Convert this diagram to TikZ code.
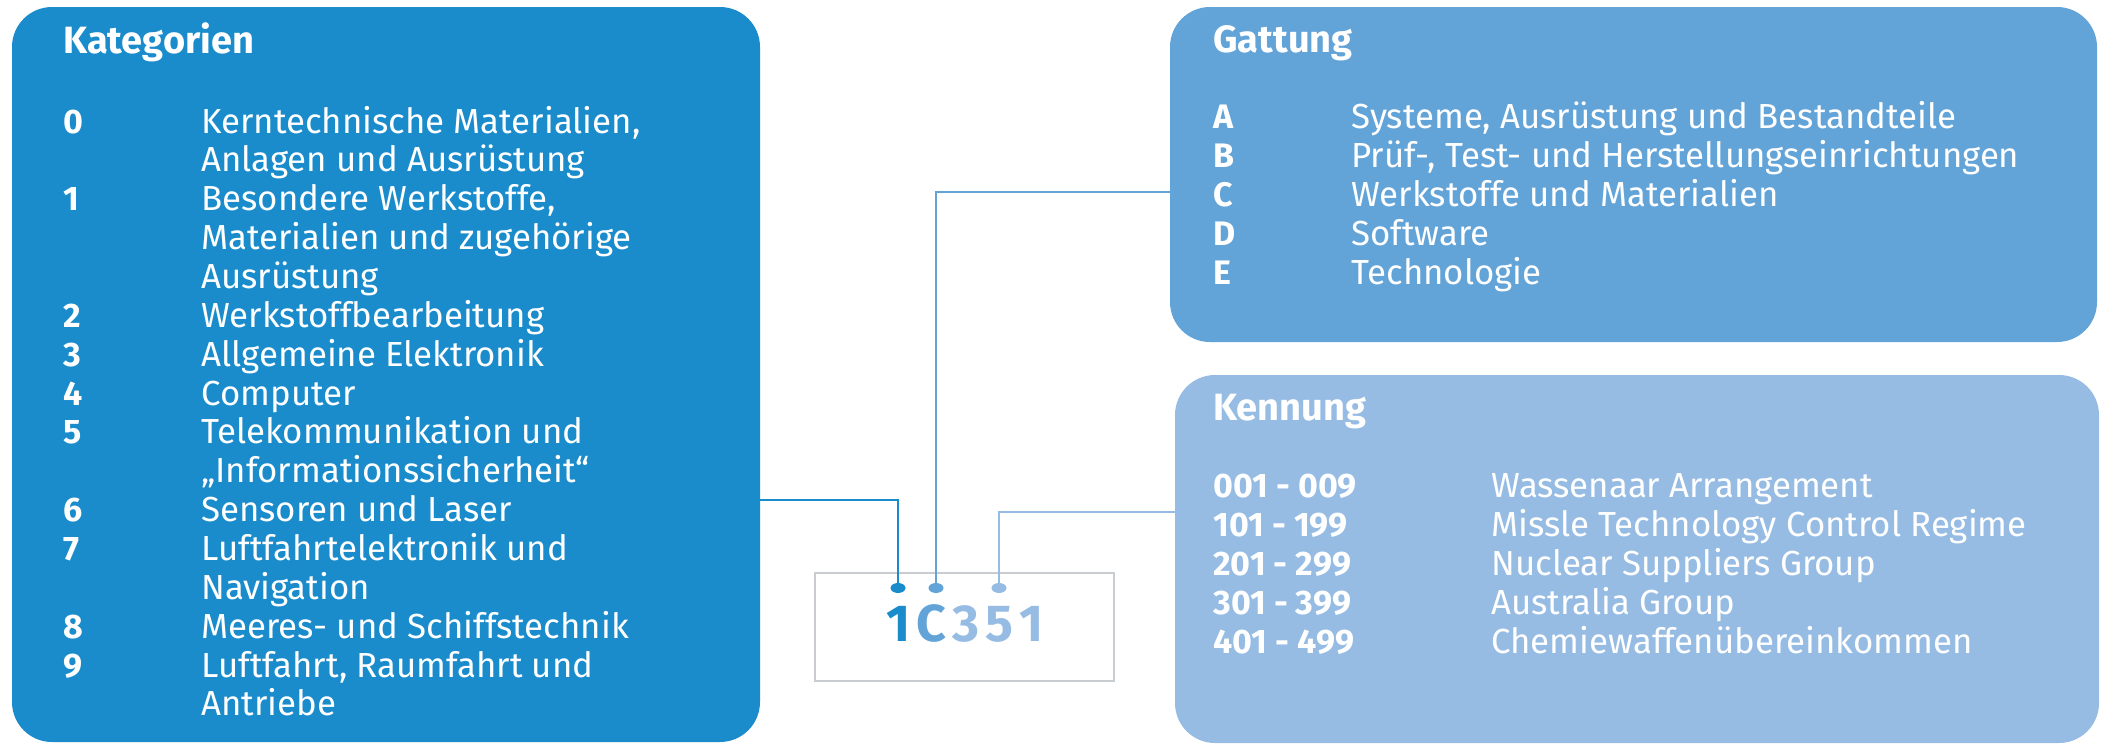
\documentclass[tikz,border=0pt]{standalone}
\usepackage{fontspec}
\setmainfont{Fira Sans}
\usetikzlibrary{shapes.geometric}
\definecolor{katblue}{HTML}{1A8CCC}
\definecolor{gatblue}{HTML}{62A3D8}
\definecolor{kenblue}{HTML}{96BCE4}
\definecolor{rahmengrau}{HTML}{C9CDD1}
\begin{document}
\begin{tikzpicture}[x=0.5pt,y=-0.5pt,
        box/.style={rectangle,rounded corners=20pt,inner sep=0pt},
        txt/.style={anchor=base west,inner sep=0pt,text=white,font=\fontsize{17.4}{20}\selectfont},
        num/.style={txt,font=\fontsize{17}{20}\selectfont\bfseries},
        head/.style={txt,font=\fontsize{19}{22}\selectfont\bfseries},
        dot/.style={ellipse,inner sep=0pt,minimum width=7.5pt,minimum height=5pt},
        verb/.style={line width=1.3pt}]
        \useasboundingbox (0,0) rectangle (2101,745);
        \node[box,fill=katblue,minimum width=374pt,minimum height=367.5pt](kat)at(386,374.5){};
        \node[box,fill=gatblue,minimum width=463.5pt,minimum height=167.5pt](gat)at(1633.5,174.5){};
        \node[box,fill=kenblue,minimum width=462pt,minimum height=184pt](ken)at(1637,559){};
        \node[rectangle,draw=rahmengrau,line width=1.2pt,minimum width=149.5pt,minimum height=54pt](kasten)at(964.5,627){};
        \node[inner sep=0pt,font=\fontsize{26}{30}\selectfont\bfseries](code)at(965,623){\textcolor{katblue}{1}\kern3pt\textcolor{gatblue}{C}\kern3pt\textcolor{kenblue}{3\kern3pt5\kern3pt1}};
        \node[dot,fill=katblue](d1)at(898,588){};
        \node[dot,fill=gatblue](d2)at(936,588){};
        \node[dot,fill=kenblue](d3)at(999,588){};
        \draw[verb,katblue](kat.east|-0,500)-|(d1);
        \draw[verb,gatblue](gat.west|-0,192)-|(d2);
        \draw[verb,kenblue](ken.west|-0,512)-|(d3);
        % Kategorien
        \node[head](kh)at(63,53){Kategorien};
        \foreach \n/\i in {0/0,1/2,2/5,3/6,4/7,5/8,6/10,7/11,8/13,9/14}
            \node[num](kn\i)at(63,133+38.86*\i){\n};
        \foreach \t [count=\i from 0] in {{Kerntechnische Materialien,},Anlagen und Ausrüstung,{Besondere Werkstoffe,},Materialien und zugehörige,Ausrüstung,Werkstoffbearbeitung,Allgemeine Elektronik,Computer,Telekommunikation und,„Informationssicherheit“,Sensoren und Laser,Luftfahrtelektronik und,Navigation,Meeres- und Schiffstechnik,{Luftfahrt, Raumfahrt und},Antriebe}
            \node[txt](kt\i)at(201,133+38.86*\i){\t};
        % Gattung
        \node[head](gh)at(1213,52){Gattung};
        \foreach \l/\t [count=\i from 0] in {A/{Systeme, Ausrüstung und Bestandteile},B/{Prüf-, Test- und Herstellungseinrichtungen},C/Werkstoffe und Materialien,D/Software,E/Technologie}{
            \node[num](gl\i)at(1213,128+39.2*\i){\l};
            \node[txt](gt\i)at(1351,128+39.2*\i){\t};
        }
        % Kennung
        \node[head](kh2)at(1213,420){Kennung};
        \foreach \r/\t [count=\i from 0] in {001 - 009/Wassenaar Arrangement,101 - 199/Missle Technology Control Regime,201 - 299/Nuclear Suppliers Group,301 - 399/Australia Group,401 - 499/Chemiewaffenübereinkommen}{
            \node[num](kr\i)at(1213,497+39*\i){\r};
            \node[txt](ktx\i)at(1491,497+39*\i){\t};
        }
    \end{tikzpicture}
\end{document}
